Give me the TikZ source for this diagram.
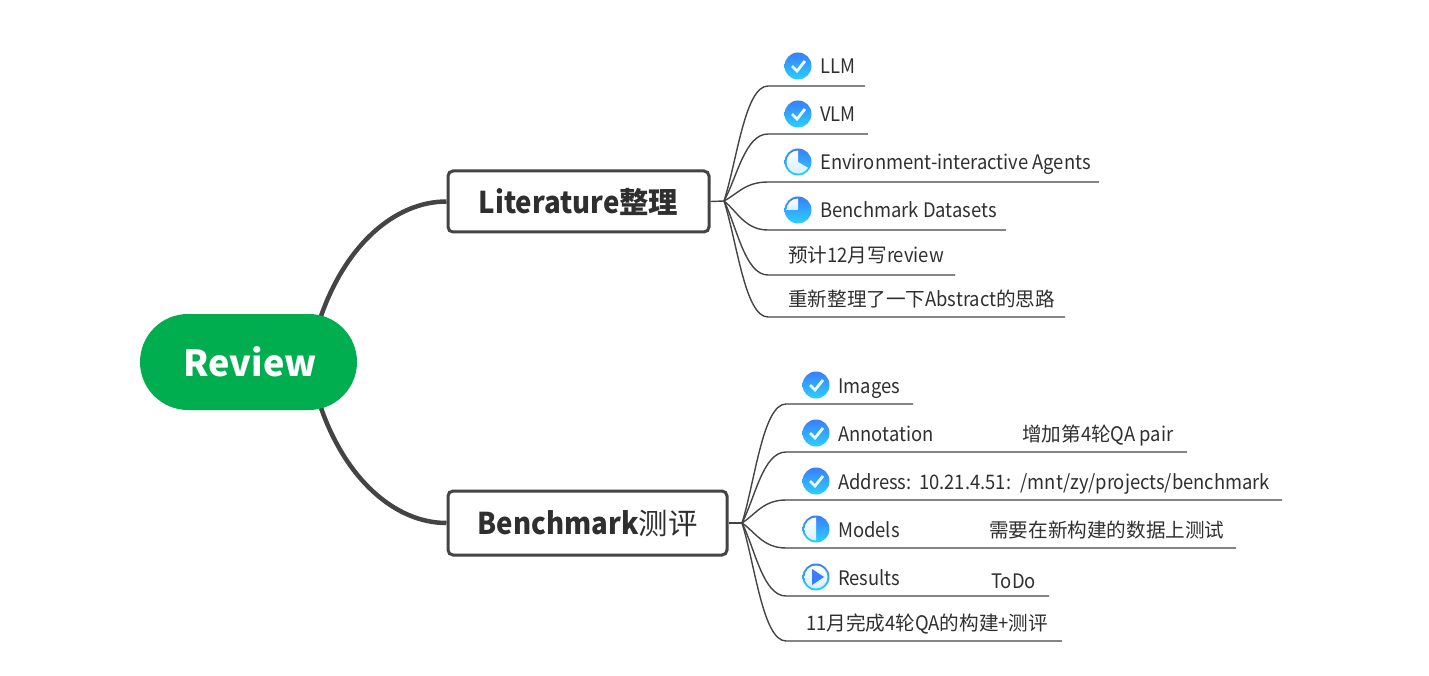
\documentclass[tikz,border=0pt]{standalone}
\usepackage{fontspec}
\setmainfont[FakeStretch=0.92]{Noto Sans CJK SC}
\newfontfamily\cjk[Scale=0.98]{Noto Sans CJK SC}
\newfontfamily\rootfont{Noto Sans CJK SC}
\usetikzlibrary{shapes.misc,backgrounds}
\definecolor{ink}{HTML}{2F2F2F}
\definecolor{edge}{HTML}{444444}
\definecolor{icona}{HTML}{3A7DFF}
\definecolor{iconb}{HTML}{2BD0FF}
\definecolor{pale}{HTML}{D5F0FF}
\definecolor{rootgreen}{HTML}{00AE50}
\newcommand{\zh}[1]{{\cjk #1}}
\tikzset{
  x=1pt,y=-1pt,
  leaf/.style={anchor=base west,inner sep=0pt,text=ink,font=\fontsize{20}{22}\selectfont},
  topic/.style={draw=edge,line width=3pt,rounded corners=5pt,fill=white,text=ink,font=\fontsize{30}{32}\selectfont\bfseries,inner sep=0pt},
  thick link/.style={draw=edge,line width=4.5pt},
  thin link/.style={draw=edge,line width=1.4pt},
  disc/.style={circle,inner sep=0pt,minimum size=27pt,top color=icona,bottom color=iconb,draw=none},
  tick/.style={draw=white!92!iconb,line width=2.8pt},
  wash/.style={top color=white,bottom color=pale,draw=none},
}
\begin{document}
\begin{tikzpicture}
\useasboundingbox (0,0) rectangle (1429,676);
\node[rounded rectangle,fill=rootgreen,minimum width=217pt,minimum height=96pt,inner sep=0pt,text=white,font=\fontsize{36}{40}\selectfont\rootfont\bfseries] (review) at (248.5,362) {\hspace*{3pt}Review};
\node[topic,minimum width=261pt,minimum height=61pt] (lit) at (578.5,201.5) {Literature\zh{整理}};
\node[topic,minimum width=279pt,minimum height=64pt] (ben) at (587.5,523) {Benchmark{\mdseries\zh{测评}}};
\begin{scope}[on background layer]
\draw[thick link] ([shift={(71.5,-43)}]review.center) .. controls (345,245) and (395,201.5) .. (lit.west);
\draw[thick link] ([shift={(71.5,43)}]review.center) .. controls (345,479) and (395,523) .. (ben.west);
\end{scope}
\coordinate (hl) at (724,201);
\coordinate (hb) at (742,523);
\draw[thin link] (lit.east) -- (hl);
\draw[thin link] (ben.east) -- (hb);
% literature leaves
\foreach \n/\y/\e in {l1/86/865,l2/134/868,l3/182/1099,l4/230/1006,l5/275/955,l6/317/1065}{
  \coordinate (\n s) at (768,\y); \coordinate (\n e) at (\e,\y);
  \pgfmathsetmacro{\cy}{201+0.35*(\y-201)}
  \draw[thin link] (hl) .. controls (737,\cy) and (745,\y) .. (\n s) -- (\n e);
}
\foreach \n/\y/\e in {b1/404/913,b2/452/1187,b3/500/1282,b4/548/1236,b5/596/1049,b6/641/1062}{
  \coordinate (\n s) at (786,\y); \coordinate (\n e) at (\e,\y);
  \pgfmathsetmacro{\cy}{523+0.35*(\y-523)}
  \draw[thin link] (hb) .. controls (755,\cy) and (763,\y) .. (\n s) -- (\n e);
}
% icons
\foreach \n/\x/\y in {il1/798/66,il2/798/114,ib1/816/385,ib2/816/433,ib3/816/481}{
  \node[disc] (\n) at (\x,\y) {};
  \draw[tick] ([shift={(-6,0)}]\n.center) -- ([shift={(-1,5)}]\n.center) -- ([shift={(7,-5)}]\n.center);
}
\node[disc] (il3) at (798,162) {};
\node[disc] (il4) at (798,210) {};
\node[disc] (ib4) at (816,529) {};
\node[disc] (ib5) at (816,577) {};
\begin{scope}[shift={(il3.center)},y=1pt]
  \path[wash] (0,0) -- (90:11.5pt) arc[start angle=90,end angle=330,radius=11.5pt] -- cycle;
\end{scope}
\begin{scope}[shift={(il4.center)},y=1pt]
  \path[wash] (0,0) -- (90:11.5pt) arc[start angle=90,end angle=180,radius=11.5pt] -- cycle;
\end{scope}
\begin{scope}[shift={(ib4.center)},y=1pt]
  \path[wash] (90:11.5pt) arc[start angle=90,end angle=270,radius=11.5pt] -- cycle;
\end{scope}
\begin{scope}[shift={(ib5.center)},y=1pt]
  \path[wash] (0,0) circle[radius=11.5pt];
  \fill[icona] (-4pt,8pt) -- (8pt,0pt) -- (-4pt,-8pt) -- cycle;
\end{scope}
\node[leaf] (t1) at (820,73.5) {LLM};
\node[leaf] (t2) at (820,121.5) {VLM};
\node[leaf] (t3) at (820,169.5) {Environment-interactive Agents};
\node[leaf] (t4) at (820,217.5) {Benchmark Datasets};
\node[leaf] (t5) at (788,262) {\zh{预计}12\zh{月写}review};
\node[leaf] (t6) at (788,306) {\zh{重新整理了一下}Abstract\zh{的思路}};
\node[leaf] (u1) at (838,393) {Images};
\node[leaf] (u2) at (838,441) {Annotation};
\node[leaf] (u2b) at (1022,441) {\zh{增加第}4\zh{轮}QA pair};
\node[leaf] (u3) at (838,489) {Address:\hspace{2pt} 10.21.4.51:\hspace{4pt} /mnt/zy/projects/benchmark};
\node[leaf] (u4) at (838,537) {Models};
\node[leaf] (u4b) at (989,537) {\zh{需要在新构建的数据上测试}};
\node[leaf] (u5) at (838,585) {Results};
\node[leaf] (u5b) at (991,588) {ToDo};
\node[leaf] (u6) at (806,630) {11\zh{月完成}4\zh{轮}QA\zh{的构建}+\zh{测评}};
\end{tikzpicture}
\end{document}
